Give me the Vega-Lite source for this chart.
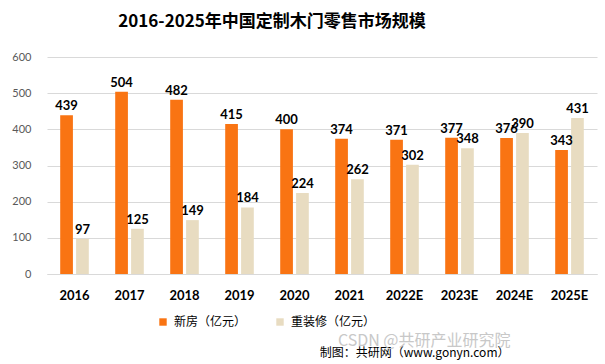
{
  "$schema": "https://vega.github.io/schema/vega-lite/v6.json",
  "autosize": {"type": "none"},
  "width": 550,
  "height": 217,
  "padding": {"left": 47, "top": 57, "right": 8, "bottom": 90},
  "background": "white",
  "title": {
    "text": "2016-2025年中国定制木门零售市场规模",
    "font": "Noto Sans CJK SC",
    "fontSize": 17,
    "fontWeight": "bold",
    "color": "#000000",
    "anchor": "middle",
    "dx": -50,
    "offset": 20
  },
  "data": {
    "values": [
      {"year": "2016", "type": "新房（亿元）", "value": 439},
      {"year": "2016", "type": "重装修（亿元）", "value": 97},
      {"year": "2017", "type": "新房（亿元）", "value": 504},
      {"year": "2017", "type": "重装修（亿元）", "value": 125},
      {"year": "2018", "type": "新房（亿元）", "value": 482},
      {"year": "2018", "type": "重装修（亿元）", "value": 149},
      {"year": "2019", "type": "新房（亿元）", "value": 415},
      {"year": "2019", "type": "重装修（亿元）", "value": 184},
      {"year": "2020", "type": "新房（亿元）", "value": 400},
      {"year": "2020", "type": "重装修（亿元）", "value": 224},
      {"year": "2021", "type": "新房（亿元）", "value": 374},
      {"year": "2021", "type": "重装修（亿元）", "value": 262},
      {"year": "2022E", "type": "新房（亿元）", "value": 371},
      {"year": "2022E", "type": "重装修（亿元）", "value": 302},
      {"year": "2023E", "type": "新房（亿元）", "value": 377},
      {"year": "2023E", "type": "重装修（亿元）", "value": 348},
      {"year": "2024E", "type": "新房（亿元）", "value": 376},
      {"year": "2024E", "type": "重装修（亿元）", "value": 390},
      {"year": "2025E", "type": "新房（亿元）", "value": 343},
      {"year": "2025E", "type": "重装修（亿元）", "value": 431}
    ]
  },
  "encoding": {
    "x": {
      "field": "year",
      "type": "nominal",
      "sort": null,
      "scale": {"paddingInner": 0.48, "paddingOuter": 0.24},
      "axis": {
        "title": "制图：共研网（www.gonyn.com）",
        "titleFont": "Noto Sans CJK SC",
        "titleFontSize": 12,
        "titleFontWeight": "normal",
        "titleColor": "#000000",
        "titleAlign": "right",
        "titleBaseline": "middle",
        "titleX": 462,
        "titleY": 78,
        "labelAngle": 0,
        "labelFont": "Lato",
        "labelFontSize": 13,
        "labelFontWeight": "bold",
        "labelColor": "#000000",
        "labelPadding": 15,
        "ticks": false,
        "domain": true,
        "domainColor": "#d9d9d9"
      }
    },
    "xOffset": {"field": "type", "type": "nominal", "sort": null, "scale": {"paddingInner": 0.2}},
    "y": {
      "field": "value",
      "type": "quantitative",
      "scale": {"domain": [0, 600]},
      "axis": {
        "values": [0, 100, 200, 300, 400, 500, 600],
        "title": "CSDN @共研产业研究院",
        "titleFont": "Noto Sans CJK SC",
        "titleFontSize": 16,
        "titleFontWeight": "normal",
        "titleColor": "#c8c8c8",
        "titleAngle": 0,
        "titleAlign": "right",
        "titleBaseline": "middle",
        "titleX": 463,
        "titleY": 283,
        "labelFont": "Lato",
        "labelFontSize": 11,
        "labelColor": "#595959",
        "labelPadding": 16,
        "ticks": false,
        "domain": false,
        "gridColor": "#d9d9d9"
      }
    }
  },
  "layer": [
    {
      "mark": {"type": "bar"},
      "encoding": {
        "color": {
          "field": "type",
          "type": "nominal",
          "sort": null,
          "scale": {"domain": ["新房（亿元）", "重装修（亿元）"], "range": ["#F97413", "#E8DCC1"]},
          "legend": {
            "title": null,
            "orient": "none",
            "direction": "horizontal",
            "legendX": 110,
            "legendY": 259,
            "symbolType": "square",
            "symbolSize": 55,
            "symbolStrokeWidth": 0,
            "labelFont": "Noto Sans CJK SC",
            "labelFontSize": 12,
            "labelColor": "#000000",
            "columnPadding": 27,
            "labelOffset": 5
          }
        }
      }
    },
    {
      "mark": {"type": "text", "dy": -9, "font": "Lato", "fontSize": 13, "fontWeight": "bold", "color": "#000000"},
      "encoding": {"text": {"field": "value", "type": "quantitative"}}
    }
  ],
  "config": {"view": {"stroke": null}}
}
